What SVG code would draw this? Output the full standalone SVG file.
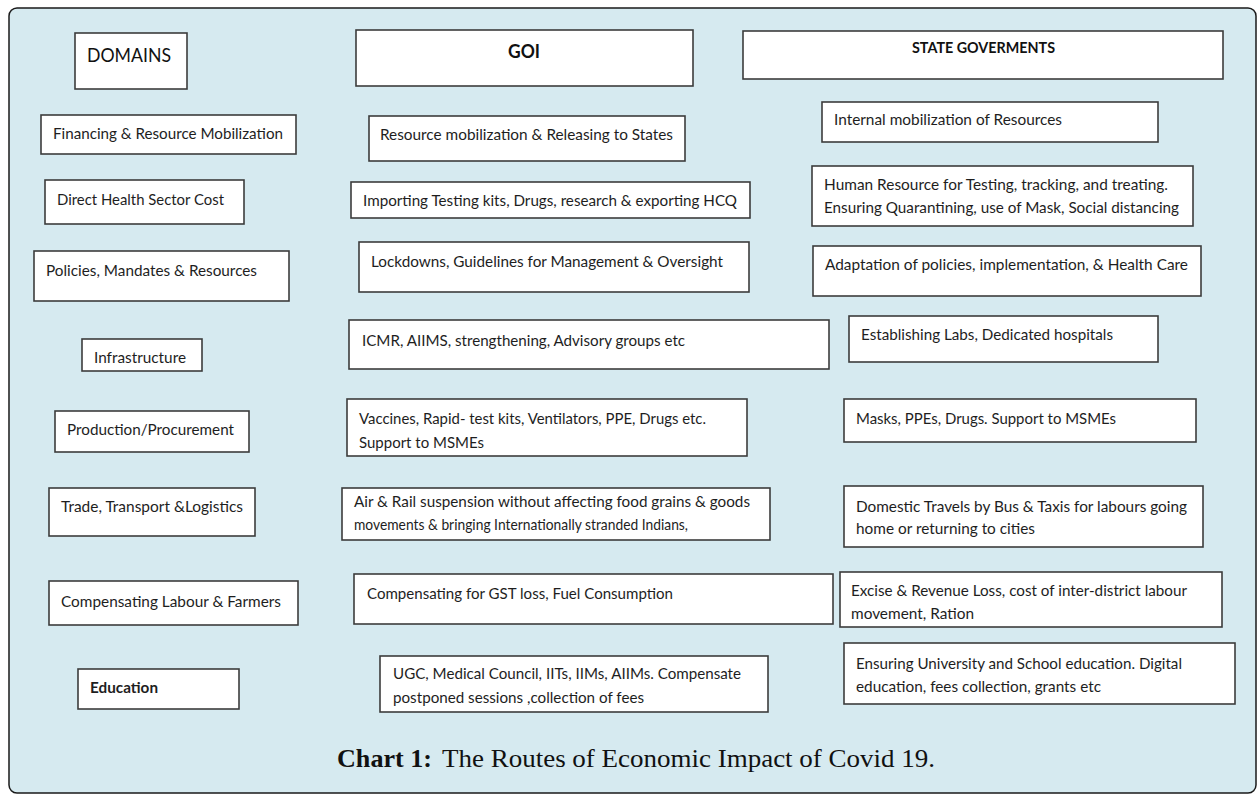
<svg xmlns="http://www.w3.org/2000/svg" width="1258" height="794" viewBox="0 0 1258 794">
  <style>
    .frame { fill: #d6eaf0; stroke: #1a1a1a; stroke-width: 1.5; }
    .box { fill: #ffffff; stroke: #3c3c3c; stroke-width: 1.6; }
    .t { font-family: Lato, "Open Sans", "Liberation Sans", sans-serif; font-size: 16px; fill: #1e1e1e; }
    .hd { font-family: Lato, "Open Sans", "Liberation Sans", sans-serif; fill: #111; }
    .b { font-weight: bold; }
    .cap { font-family: "Liberation Serif", "DejaVu Serif", serif; font-size: 26px; fill: #111; }
  </style>

  <rect width="1258" height="794" fill="#ffffff"/>
  <!-- background panel -->
  <rect class="frame" x="9" y="8" width="1247" height="785" rx="8" ry="8"/>

  <!-- column headers -->
  <g id="hdr-domains">
    <rect class="box" x="75" y="33" width="112" height="56"/>
    <text class="hd" x="87" y="62" font-size="20" textLength="84" lengthAdjust="spacingAndGlyphs">DOMAINS</text>
  </g>
  <g id="hdr-goi">
    <rect class="box" x="356" y="30" width="337" height="56"/>
    <text class="hd b" x="508" y="58" font-size="18" textLength="32" lengthAdjust="spacingAndGlyphs">GOI</text>
  </g>
  <g id="hdr-states">
    <rect class="box" x="743" y="31" width="480" height="48"/>
    <text class="hd b" x="912" y="53" font-size="15" textLength="143" lengthAdjust="spacingAndGlyphs">STATE GOVERMENTS</text>
  </g>

  <!-- row 1 -->
  <g id="dom-financing">
    <rect class="box" x="41" y="115" width="255" height="39"/>
    <text class="t" x="53" y="139" textLength="230" lengthAdjust="spacingAndGlyphs">Financing &amp; Resource Mobilization</text>
  </g>
  <g id="goi-financing">
    <rect class="box" x="369" y="116" width="316" height="45"/>
    <text class="t" x="380" y="140" textLength="293" lengthAdjust="spacingAndGlyphs">Resource mobilization &amp; Releasing to States</text>
  </g>
  <g id="st-financing">
    <rect class="box" x="822" y="102" width="336" height="40"/>
    <text class="t" x="834" y="125" textLength="228" lengthAdjust="spacingAndGlyphs">Internal mobilization of Resources</text>
  </g>

  <!-- row 2 -->
  <g id="dom-health">
    <rect class="box" x="45" y="180" width="199" height="44"/>
    <text class="t" x="57" y="205" textLength="167" lengthAdjust="spacingAndGlyphs">Direct Health Sector Cost</text>
  </g>
  <g id="goi-health">
    <rect class="box" x="351" y="182" width="399" height="36"/>
    <text class="t" x="363" y="206" textLength="374" lengthAdjust="spacingAndGlyphs">Importing Testing kits, Drugs, research &amp; exporting HCQ</text>
  </g>
  <g id="st-health">
    <rect class="box" x="812" y="166" width="381" height="60"/>
    <text class="t" x="824" y="190" textLength="344" lengthAdjust="spacingAndGlyphs">Human Resource for Testing, tracking, and treating.</text>
    <text class="t" x="824" y="213" textLength="355" lengthAdjust="spacingAndGlyphs">Ensuring Quarantining, use of Mask, Social distancing</text>
  </g>

  <!-- row 3 -->
  <g id="dom-policies">
    <rect class="box" x="34" y="251" width="255" height="50"/>
    <text class="t" x="46" y="276" textLength="211" lengthAdjust="spacingAndGlyphs">Policies, Mandates &amp; Resources</text>
  </g>
  <g id="goi-policies">
    <rect class="box" x="359" y="242" width="390" height="50"/>
    <text class="t" x="371" y="267" textLength="352" lengthAdjust="spacingAndGlyphs">Lockdowns, Guidelines for Management &amp; Oversight</text>
  </g>
  <g id="st-policies">
    <rect class="box" x="813" y="246" width="388" height="50"/>
    <text class="t" x="825" y="270" textLength="363" lengthAdjust="spacingAndGlyphs">Adaptation of policies, implementation, &amp; Health Care</text>
  </g>

  <!-- row 4 -->
  <g id="dom-infra">
    <rect class="box" x="82" y="339" width="120" height="32"/>
    <text class="t" x="94" y="363" textLength="92" lengthAdjust="spacingAndGlyphs">Infrastructure</text>
  </g>
  <g id="goi-infra">
    <rect class="box" x="349" y="320" width="480" height="49"/>
    <text class="t" x="362" y="346" textLength="323" lengthAdjust="spacingAndGlyphs">ICMR, AIIMS, strengthening, Advisory groups etc</text>
  </g>
  <g id="st-infra">
    <rect class="box" x="849" y="316" width="309" height="46"/>
    <text class="t" x="861" y="340" textLength="252" lengthAdjust="spacingAndGlyphs">Establishing Labs, Dedicated hospitals</text>
  </g>

  <!-- row 5 -->
  <g id="dom-production">
    <rect class="box" x="55" y="411" width="194" height="41"/>
    <text class="t" x="67" y="435" textLength="167" lengthAdjust="spacingAndGlyphs">Production/Procurement</text>
  </g>
  <g id="goi-production">
    <rect class="box" x="347" y="399" width="400" height="57"/>
    <text class="t" x="359" y="424" textLength="347" lengthAdjust="spacingAndGlyphs">Vaccines, Rapid- test kits, Ventilators, PPE, Drugs etc.</text>
    <text class="t" x="359" y="448" textLength="125" lengthAdjust="spacingAndGlyphs">Support to MSMEs</text>
  </g>
  <g id="st-production">
    <rect class="box" x="844" y="399" width="352" height="43"/>
    <text class="t" x="856" y="424" textLength="260" lengthAdjust="spacingAndGlyphs">Masks, PPEs, Drugs. Support to MSMEs</text>
  </g>

  <!-- row 6 -->
  <g id="dom-trade">
    <rect class="box" x="49" y="488" width="206" height="48"/>
    <text class="t" x="61" y="512" textLength="182" lengthAdjust="spacingAndGlyphs">Trade, Transport &amp;Logistics</text>
  </g>
  <g id="goi-trade">
    <rect class="box" x="342" y="488" width="428" height="52"/>
    <text class="t" x="354" y="507" textLength="396" lengthAdjust="spacingAndGlyphs">Air &amp; Rail suspension without affecting food grains &amp; goods</text>
    <text class="t" x="354" y="530" textLength="334" lengthAdjust="spacingAndGlyphs">movements &amp; bringing Internationally stranded Indians,</text>
  </g>
  <g id="st-trade">
    <rect class="box" x="844" y="486" width="359" height="61"/>
    <text class="t" x="856" y="512" textLength="331" lengthAdjust="spacingAndGlyphs">Domestic Travels by Bus &amp; Taxis for labours going</text>
    <text class="t" x="856" y="534" textLength="179" lengthAdjust="spacingAndGlyphs">home or returning to cities</text>
  </g>

  <!-- row 7 -->
  <g id="dom-compensation">
    <rect class="box" x="49" y="581" width="249" height="44"/>
    <text class="t" x="61" y="607" textLength="220" lengthAdjust="spacingAndGlyphs">Compensating Labour &amp; Farmers</text>
  </g>
  <g id="goi-compensation">
    <rect class="box" x="354" y="574" width="479" height="50"/>
    <text class="t" x="367" y="599" textLength="306" lengthAdjust="spacingAndGlyphs">Compensating for GST loss, Fuel Consumption</text>
  </g>
  <g id="st-compensation">
    <rect class="box" x="840" y="572" width="382" height="55"/>
    <text class="t" x="851" y="596" textLength="336" lengthAdjust="spacingAndGlyphs">Excise &amp; Revenue Loss, cost of inter-district labour</text>
    <text class="t" x="851" y="619" textLength="123" lengthAdjust="spacingAndGlyphs">movement, Ration</text>
  </g>

  <!-- row 8 -->
  <g id="dom-education">
    <rect class="box" x="78" y="669" width="161" height="40"/>
    <text class="t b" x="90" y="693" textLength="68" lengthAdjust="spacingAndGlyphs">Education</text>
  </g>
  <g id="goi-education">
    <rect class="box" x="380" y="656" width="388" height="56"/>
    <text class="t" x="393" y="679" textLength="348" lengthAdjust="spacingAndGlyphs">UGC, Medical Council, IITs, IIMs, AIIMs. Compensate</text>
    <text class="t" x="393" y="703" textLength="251" lengthAdjust="spacingAndGlyphs">postponed sessions ,collection of fees</text>
  </g>
  <g id="st-education">
    <rect class="box" x="844" y="643" width="391" height="61"/>
    <text class="t" x="856" y="669" textLength="326" lengthAdjust="spacingAndGlyphs">Ensuring University and School education. Digital</text>
    <text class="t" x="856" y="692" textLength="245" lengthAdjust="spacingAndGlyphs">education, fees collection, grants etc</text>
  </g>

  <!-- caption -->
  <g id="caption">
    <text class="cap b" x="337" y="767" textLength="95" lengthAdjust="spacingAndGlyphs">Chart 1:</text>
    <text class="cap" x="442" y="767" textLength="493" lengthAdjust="spacingAndGlyphs">The Routes of Economic Impact of Covid 19.</text>
  </g>
</svg>
